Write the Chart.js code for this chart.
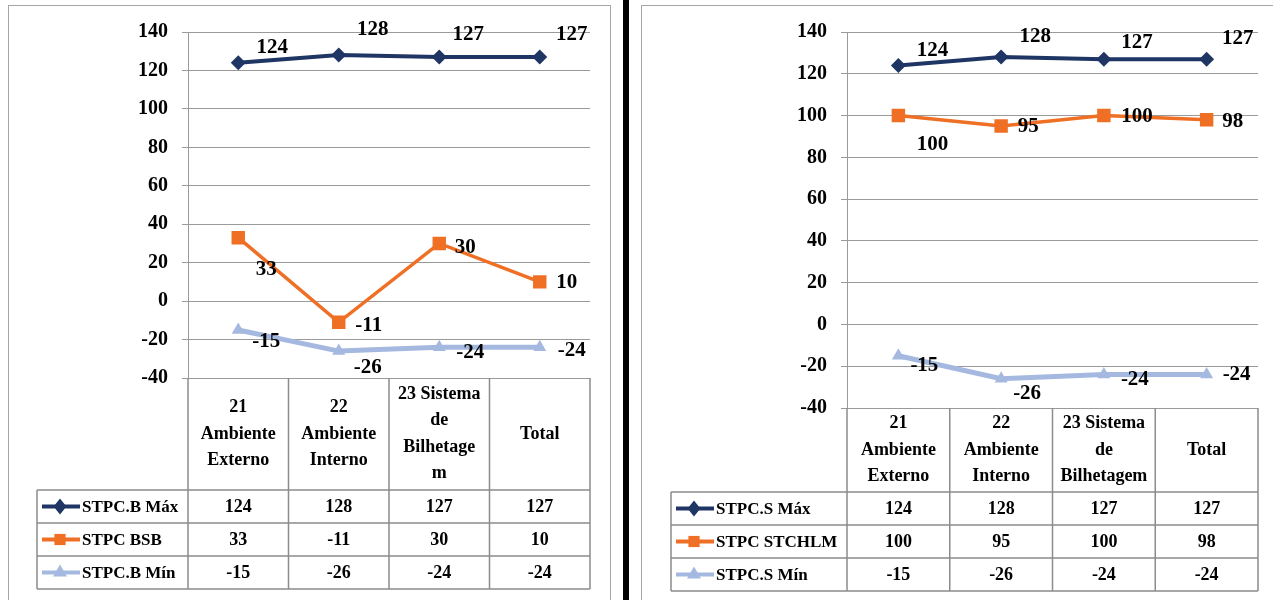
<!DOCTYPE html>
<html>
<head>
<meta charset="utf-8">
<script src="https://cdn.jsdelivr.net/npm/chart.js@4.4.1/dist/chart.umd.min.js"></script>
<style>
  body { margin: 0; background: #fff; width: 1273px; height: 600px; overflow: hidden; position: relative; }
  .panel { position: absolute; top: 5px; height: 610px; border: 1.5px solid #a6a6a6; box-sizing: border-box; }
  #panelB { left: 8px; width: 603px; }
  #panelS { left: 641px; width: 640px; }
  #divider { position: absolute; left: 623px; top: 0; width: 6px; height: 600px; background: #000; }
  canvas { position: absolute; top: 6px; }
  #chartB { left: 9px; }
  #chartS { left: 642px; }
</style>
</head>
<body>
<div class="panel" id="panelB"></div>
<div id="divider"></div>
<div class="panel" id="panelS"></div>
<canvas id="chartB" width="600" height="594"></canvas>
<canvas id="chartS" width="631" height="594"></canvas>
<script>
// categories (each label split into the lines shown in the table header)
const categoriesB = [['21', 'Ambiente', 'Externo'], ['22', 'Ambiente', 'Interno'], ['23 Sistema', 'de', 'Bilhetage', 'm'], ['Total']];
const categoriesS = [['21', 'Ambiente', 'Externo'], ['22', 'Ambiente', 'Interno'], ['23 Sistema', 'de', 'Bilhetagem'], ['Total']];

// left chart series
const stpcBMax = [124, 128, 127, 127];
const stpcBSB = [33, -11, 30, 10];
const stpcBMin = [-15, -26, -24, -24];

// right chart series
const stpcSMax = [124, 128, 127, 127];
const stpcSTCHLM = [100, 95, 100, 98];
const stpcSMin = [-15, -26, -24, -24];

// y axis
const yMin = -40;
const yMax = 140;
const yStep = 20;

const SERIF = "'Liberation Serif', 'Times New Roman', serif";
const NAVY = '#1f3564';
const ORANGE = '#ef6f25';
const LIGHT = '#a5b9e0';
const GRID = '#9a9a9a';

Chart.defaults.font.family = SERIF;
Chart.defaults.color = '#000';

// label offsets next to each point (style only)
const labelOffsetsB = [
  [[34, -15], [34, -25], [29, -22], [32, -22]],
  [[28, 32], [30, 3], [26, 4], [27, 1]],
  [[28, 12], [29, 16], [31, 5], [32, 3]]
];
const labelOffsetsS = [
  [[34, -15], [34, -20], [33, -17], [31, -21]],
  [[34, 29], [27, 1], [33, 1], [26, 2]],
  [[26, 10], [26, 15], [31, 5], [30, 0]]
];

function drawMarker(ctx, style, x, y, r, color) {
  ctx.fillStyle = color;
  ctx.beginPath();
  if (style === 'rectRot') {
    ctx.moveTo(x, y - r); ctx.lineTo(x + r * 0.8, y); ctx.lineTo(x, y + r); ctx.lineTo(x - r * 0.8, y);
  } else if (style === 'rect') {
    ctx.rect(x - r * 0.7, y - r * 0.7, r * 1.4, r * 1.4);
  } else {
    ctx.moveTo(x, y - r); ctx.lineTo(x + r * 0.87, y + r * 0.5); ctx.lineTo(x - r * 0.87, y + r * 0.5);
  }
  ctx.closePath();
  ctx.fill();
}

// values written next to the points
const pointLabels = {
  id: 'pointLabels',
  afterDatasetsDraw(chart, args, opts) {
    const ctx = chart.ctx;
    ctx.save();
    ctx.font = 'bold 21px ' + SERIF;
    ctx.fillStyle = '#000';
    ctx.textAlign = 'center';
    ctx.textBaseline = 'middle';
    chart.data.datasets.forEach((ds, di) => {
      const meta = chart.getDatasetMeta(di);
      meta.data.forEach((pt, i) => {
        const off = opts.offsets[di][i];
        ctx.fillText(String(ds.data[i]), pt.x + off[0], pt.y + off[1]);
      });
    });
    ctx.restore();
  }
};

// data table under the plot (Excel style)
const dataTable = {
  id: 'dataTable',
  afterDraw(chart, args, opts) {
    const ctx = chart.ctx;
    const a = chart.chartArea;
    const xs = chart.scales.x;
    const n = chart.data.labels.length;
    const colW = (a.right - a.left) / n;
    const headBottom = a.bottom + opts.headerHeight;
    const rows = chart.data.datasets.length;
    const bottom = headBottom + rows * opts.rowHeight;
    const legLeft = opts.legendLeft;

    ctx.save();
    ctx.strokeStyle = '#8c8c8c';
    ctx.lineWidth = 1.5;
    ctx.beginPath();
    for (let i = 0; i <= n; i++) {
      const x = a.left + i * colW;
      ctx.moveTo(x, a.bottom); ctx.lineTo(x, bottom);
    }
    ctx.moveTo(legLeft, headBottom); ctx.lineTo(legLeft, bottom);
    for (let r = 0; r <= rows; r++) {
      const y = headBottom + r * opts.rowHeight;
      ctx.moveTo(legLeft, y); ctx.lineTo(a.right, y);
    }
    ctx.stroke();

    ctx.font = 'bold 18px ' + SERIF;
    ctx.fillStyle = '#000';
    ctx.textAlign = 'center';
    ctx.textBaseline = 'middle';

    // header: category names
    const hc = (a.bottom + headBottom) / 2;
    chart.data.labels.forEach((lines, i) => {
      const x = xs.getPixelForValue(i);
      const y0 = hc - (lines.length - 1) * opts.lineHeight / 2;
      lines.forEach((t, k) => ctx.fillText(t, x, y0 + k * opts.lineHeight));
    });

    // rows: legend key + values
    chart.data.datasets.forEach((ds, di) => {
      const yc = headBottom + di * opts.rowHeight + opts.rowHeight / 2;
      ctx.strokeStyle = ds.borderColor;
      ctx.lineWidth = 4;
      ctx.beginPath();
      ctx.moveTo(legLeft + 5, yc); ctx.lineTo(legLeft + 43, yc);
      ctx.stroke();
      drawMarker(ctx, ds.pointStyle, legLeft + 23, yc, 8, ds.backgroundColor);
      ctx.fillStyle = '#000';
      ctx.textAlign = 'left';
      ctx.font = 'bold 17px ' + SERIF;
      ctx.fillText(ds.label, legLeft + 45, yc + 1);
      ctx.font = 'bold 18px ' + SERIF;
      ctx.textAlign = 'center';
      ds.data.forEach((v, i) => ctx.fillText(String(v), xs.getPixelForValue(i), yc + 1));
    });
    ctx.restore();
  }
};

function makeChart(id, labels, series, names, axisWidth, pad, table, offsets) {
  const styles = [
    { color: NAVY, style: 'rectRot', radius: 7.5, width: 4 },
    { color: ORANGE, style: 'rect', radius: 9.5, width: 3.5 },
    { color: LIGHT, style: 'triangle', radius: 7.5, width: 5 }
  ];
  return new Chart(document.getElementById(id), {
    type: 'line',
    data: {
      labels: labels,
      datasets: series.map((d, i) => ({
        label: names[i],
        data: d,
        borderColor: styles[i].color,
        backgroundColor: styles[i].color,
        borderWidth: styles[i].width,
        pointStyle: styles[i].style,
        pointRadius: styles[i].radius,
        pointBorderWidth: 0,
        tension: 0
      }))
    },
    options: {
      responsive: false,
      animation: false,
      layout: { padding: pad },
      scales: {
        x: { type: 'category', offset: true, display: false },
        y: {
          min: yMin,
          max: yMax,
          ticks: { stepSize: yStep, padding: 14, font: { size: 20, weight: 'bold' }, color: '#000' },
          grid: { color: GRID, lineWidth: 1, tickLength: 6 },
          border: { color: GRID, width: 1 },
          afterFit: s => { s.width = axisWidth; }
        }
      },
      plugins: {
        legend: { display: false },
        tooltip: { enabled: false },
        pointLabels: { offsets: offsets },
        dataTable: table
      }
    },
    plugins: [pointLabels, dataTable]
  });
}

makeChart('chartB', categoriesB, [stpcBMax, stpcBSB, stpcBMin],
  ['STPC.B Máx', 'STPC BSB', 'STPC.B Mín'],
  179, { left: 0, top: 26, right: 19, bottom: 222 },
  { headerHeight: 112, rowHeight: 33, legendLeft: 28, lineHeight: 26.5 },
  labelOffsetsB);

makeChart('chartS', categoriesS, [stpcSMax, stpcSTCHLM, stpcSMin],
  ['STPC.S Máx', 'STPC STCHLM', 'STPC.S Mín'],
  205, { left: 0, top: 26, right: 15, bottom: 192 },
  { headerHeight: 84, rowHeight: 33, legendLeft: 29, lineHeight: 26.5 },
  labelOffsetsS);
</script>
</body>
</html>
